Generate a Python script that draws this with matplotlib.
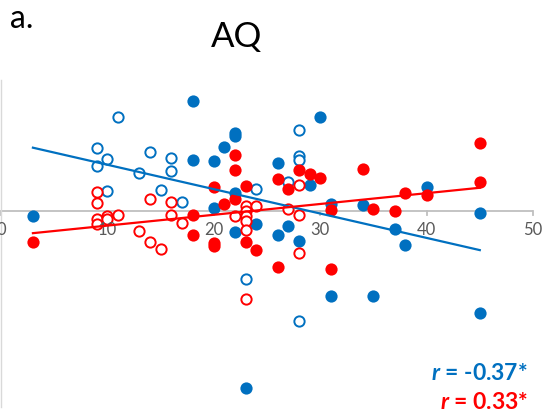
import numpy as np
import matplotlib
matplotlib.use("agg")
import matplotlib.pyplot as plt

plt.rcParams["font.family"] = ["Lato", "DejaVu Sans"]
plt.rcParams["mathtext.fontset"] = "custom"
plt.rcParams["mathtext.bfit"] = "Lato:italic:bold"

BLUE = "#0070C0"
RED = "#FF0000"

# AQ score vs. measure, filled / open for two sub groups
blue_filled_x = [18, 3, 22, 22, 21, 18, 20, 26, 22, 20, 22, 24, 26, 23, 30, 29, 31,
                 34, 37, 38, 45, 27, 28, 40, 31, 35, 45]
blue_filled_y = [2.20, -0.11, 1.55, 1.49, 1.27, 1.02, 1.00, 0.95, 0.35, 0.05, -0.43,
                 -0.26, -0.48, -3.53, 1.87, 0.52, 0.14, 0.12, -0.36, -0.68, -0.05,
                 -0.31, -0.60, 0.47, -1.70, -1.70, -2.03]
blue_open_x = [11, 9, 10, 9, 14, 16, 16, 13, 10, 15, 17, 24, 23, 28, 28, 28, 27, 28]
blue_open_y = [1.87, 1.25, 1.03, 0.90, 1.17, 1.05, 0.79, 0.75, 0.39, 0.42, 0.17,
               0.43, -1.35, 1.61, 1.10, 1.01, 0.57, -2.20]

red_filled_x = [22, 22, 26, 20, 23, 21, 22, 18, 18, 20, 20, 23, 24, 3, 26, 45, 34,
                28, 29, 30, 27, 45, 38, 40, 31, 35, 37, 31]
red_filled_y = [1.12, 0.81, 0.64, 0.47, 0.49, 0.14, 0.23, -0.08, -0.48, -0.65, -0.71,
                -0.63, -0.78, -0.63, -1.11, 1.35, 0.83, 0.81, 0.74, 0.65, 0.43, 0.57,
                0.35, 0.32, 0.02, 0.03, 0.00, -1.15]
red_open_x = [9, 9, 9, 9, 10, 10, 11, 14, 16, 16, 17, 13, 14, 15, 23, 23, 23, 23, 23,
              22, 24, 23, 28, 27, 28, 28]
red_open_y = [0.37, 0.15, -0.17, -0.26, -0.11, -0.17, -0.08, 0.24, 0.17, -0.08, -0.25,
              -0.41, -0.63, -0.77, 0.10, -0.01, -0.11, -0.21, -0.39, -0.10, 0.10,
              -1.75, 0.52, 0.04, -0.08, -0.85]

r_blue = "-0.37*"
r_red = "0.33*"

fig = plt.figure(figsize=(5.48, 4.15), dpi=100)
ax = fig.add_axes([1 / 548, 8 / 415, 532 / 548, 327 / 415])

ms_f = 8.8
ms_o = 7.4
ax.plot(blue_filled_x, blue_filled_y, "o", color=BLUE, ms=ms_f, mew=0, zorder=2)
ax.plot(blue_open_x, blue_open_y, "o", mfc="white", mec=BLUE, ms=ms_o, mew=1.4, zorder=2)
ax.plot(red_filled_x, red_filled_y, "o", color=RED, ms=ms_f, mew=0, zorder=3)
ax.plot(red_open_x, red_open_y, "o", mfc="white", mec=RED, ms=ms_o, mew=1.4, zorder=3)

# regression lines over each colour group
for xs, ys, c in [(blue_filled_x + blue_open_x, blue_filled_y + blue_open_y, BLUE),
                  (red_filled_x + red_open_x, red_filled_y + red_open_y, RED)]:
    xs = np.array(xs)
    k, b = np.polyfit(xs, ys, 1)
    xl = np.array([xs.min(), xs.max()])
    ax.plot(xl, k * xl + b, color=c, lw=1.6, zorder=4)

ax.set_xlim(0, 50)
ax.set_ylim(-3.92, 2.62)
for s in ["top", "right", "bottom"]:
    ax.spines[s].set_visible(False)
ax.spines["left"].set_color("#D9D9D9")
ax.spines["left"].set_linewidth(1.0)
ax.axhline(0, color="#BFBFBF", lw=1.3, zorder=1)
ax.set_yticks([])
ax.set_xticks(np.arange(0, 51, 10))
ax.xaxis.set_ticks_position("none")
for t in np.arange(0, 51, 10):
    ax.plot([t, t], [0, -0.09], color="#BFBFBF", lw=1.3, zorder=1, clip_on=False)
    ax.text(t, -0.22, str(t), ha="center", va="top", fontsize=12, color="#595959")
ax.set_xticklabels([])

fig.text(236.5 / 548, 1 - 37 / 415, "AQ", ha="center", va="center", fontsize=25)
fig.text(10 / 548, 1 - 19 / 415, "a.", ha="left", va="center", fontsize=23)

fig.text(528 / 548, 1 - 373 / 415, r"$\mathbfit{r}$ = " + r_blue, ha="right", va="center",
         fontsize=16.5, fontweight="bold", color=BLUE)
fig.text(528 / 548, 1 - 402 / 415, r"$\mathbfit{r}$ = " + r_red, ha="right", va="center",
         fontsize=16.5, fontweight="bold", color=RED)

fig.savefig("out.png", dpi=100)
